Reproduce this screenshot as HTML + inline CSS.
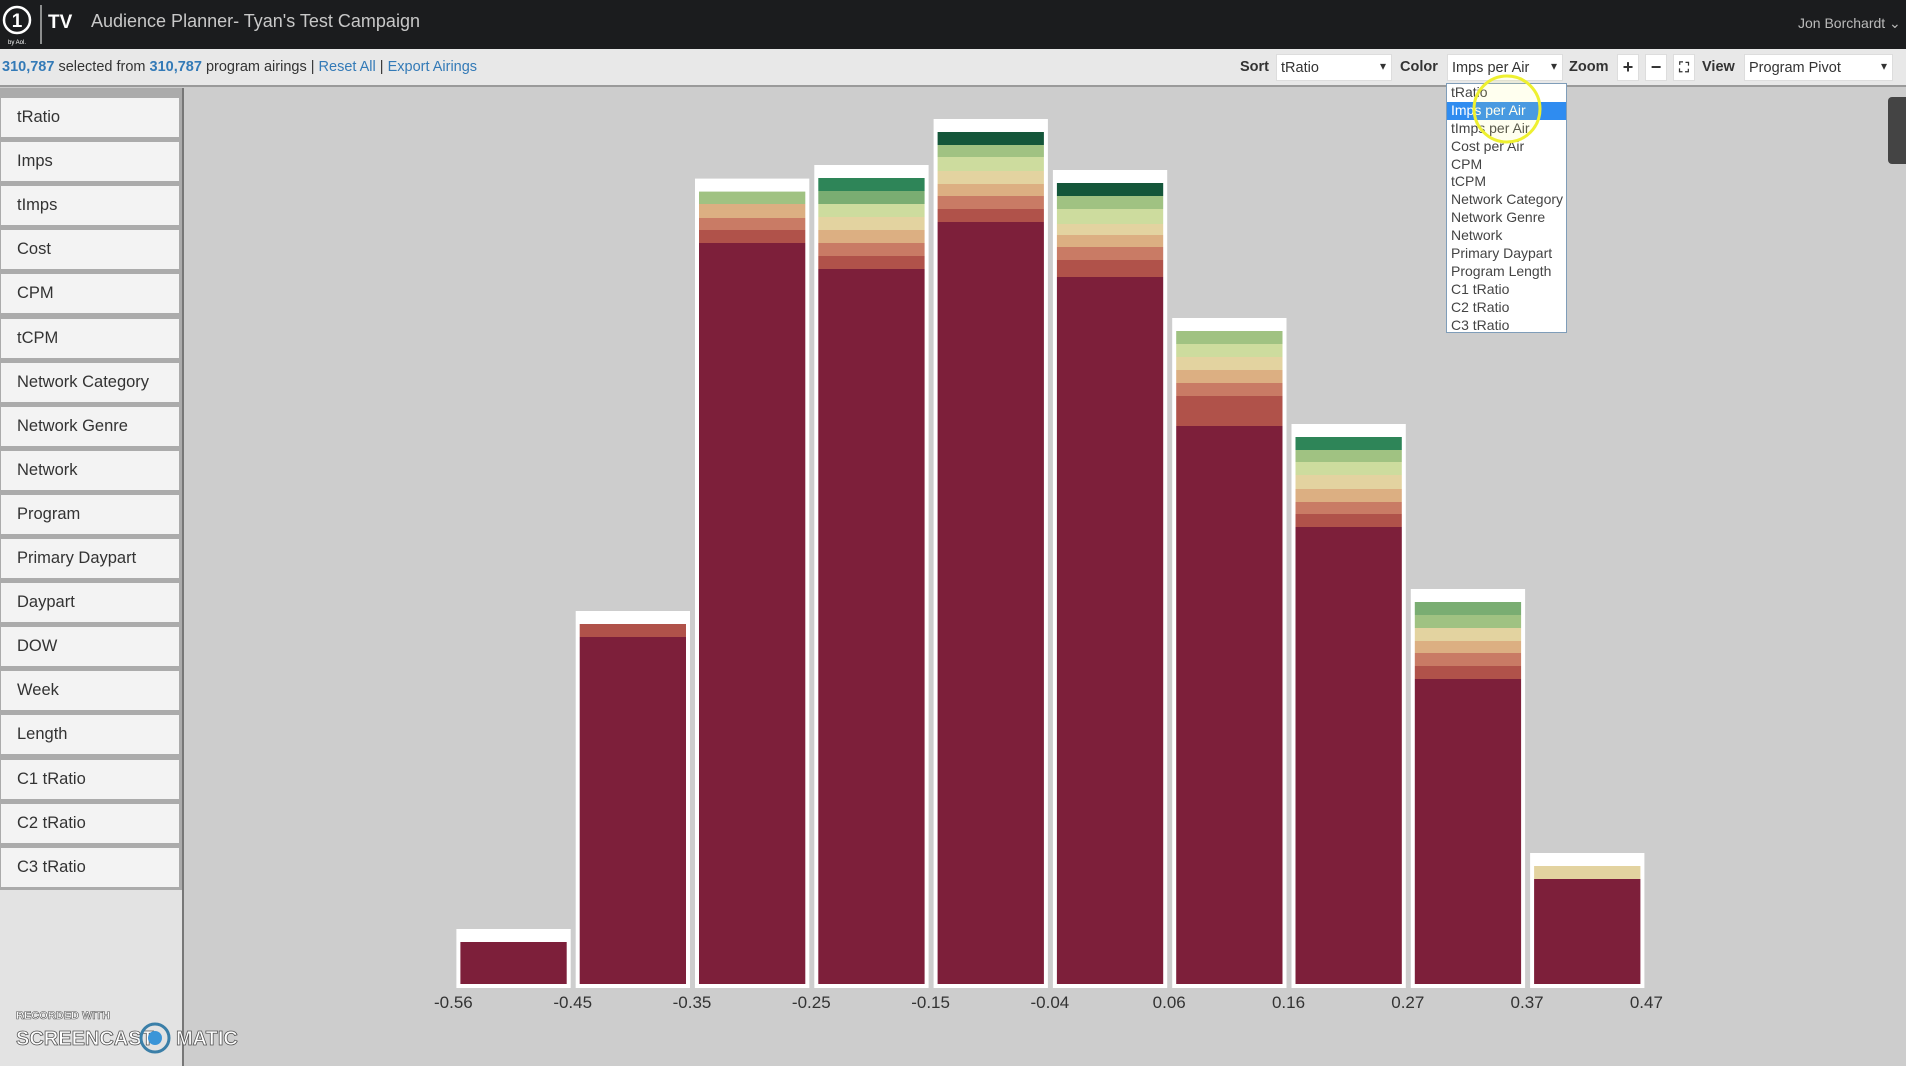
<!DOCTYPE html>
<html><head><meta charset="utf-8"><style>
*{box-sizing:border-box;margin:0;padding:0}
body{width:1906px;height:1066px;overflow:hidden;background:#cdcdcd;font-family:"Liberation Sans",sans-serif;position:relative}
#topbar{position:absolute;left:0;top:0;width:1906px;height:49px;background:#1b1c1e}
#toolbar{position:absolute;left:0;top:49px;width:1906px;height:38px;background:#e8e8e8;border-bottom:2px solid #9a9a9a;font-size:14.5px;color:#333}
.sel{position:absolute;top:5px;height:27px;background:#fff;border:1px solid #ddd;font-size:14.5px;padding:5px 4px;color:#333}
.sel:after{content:"▾";position:absolute;right:5px;top:4px;font-size:12px}
.lbl{position:absolute;top:10px;font-weight:bold;font-size:14.5px;color:#333}
.zb{position:absolute;top:5px;width:22px;height:27px;background:#fff;border:1px solid #ddd;text-align:center;font-weight:bold;font-size:18px;line-height:25px}
#sidebar{position:absolute;left:0;top:88px;width:184px;height:978px;background:#e3e3e3;border-right:2px solid #777}
#sbtns{position:absolute;left:0;top:0;width:182px;height:802px;background:#ababab}
.sb{position:absolute;left:1px;width:178px;height:39px;background:#f3f3f3;font-size:16.5px;color:#333;padding:10px 16px}
#dd{position:absolute;left:1446px;top:83px;width:121px;height:250px;background:#fff;border:1px solid #7f9db9;font-size:14px;color:#444;overflow:hidden}
#dd div{height:17.9px;line-height:17.9px;padding-left:4px;white-space:nowrap}
</style></head><body>
<div id="topbar">
 <svg width="60" height="49" style="position:absolute;left:0;top:0">
  <circle cx="17" cy="20" r="13" fill="none" stroke="#fff" stroke-width="2.5"/>
  <text x="17" y="27" fill="#fff" font-size="19" font-weight="bold" text-anchor="middle" font-family="Liberation Sans">1</text>
  <text x="17" y="44" fill="#fff" font-size="6" text-anchor="middle" font-family="Liberation Sans">by Aol.</text>
  <line x1="41" y1="5" x2="41" y2="44" stroke="#fff" stroke-width="1"/>
 </svg>
 <div style="position:absolute;left:48px;top:12px;color:#fff;font-size:19px;font-weight:bold">TV</div>
 <div style="position:absolute;left:91px;top:11px;color:#c8c8c8;font-size:18px">Audience Planner- Tyan's Test Campaign</div>
 <div style="position:absolute;left:1798px;top:15px;color:#bbb;font-size:14px">Jon Borchardt ⌄</div>
</div>
<div id="toolbar">
 <div style="position:absolute;left:2px;top:10px"><b style="color:#337ab7">310,787</b> selected from <b style="color:#337ab7">310,787</b> program airings | <span style="color:#337ab7">Reset All</span> | <span style="color:#337ab7">Export Airings</span></div>
 <div class="lbl" style="left:1240px">Sort</div>
 <div class="sel" style="left:1276px;width:116px">tRatio</div>
 <div class="lbl" style="left:1400px">Color</div>
 <div class="sel" style="left:1447px;width:116px">Imps per Air</div>
 <div class="lbl" style="left:1569px">Zoom</div>
 <div class="zb" style="left:1617px">+</div>
 <div class="zb" style="left:1645px">−</div>
 <div class="zb" style="left:1673px;font-size:14px">⛶</div>
 <div class="lbl" style="left:1702px">View</div>
 <div class="sel" style="left:1744px;width:149px">Program Pivot</div>
</div>
<div id="sidebar"><div id="sbtns"></div></div>
<div style="position:absolute;left:1888px;top:97px;width:18px;height:67px;background:#444;border-radius:4px 0 0 4px"></div>
<svg id="chart" width="1906" height="1066" style="position:absolute;left:0;top:0"></svg>
<div id="dd"></div>
<svg width="1906" height="1066" style="position:absolute;left:0;top:0;pointer-events:none">
 <circle cx="1507" cy="109" r="33" fill="rgba(255,255,120,0.12)" stroke="#eef030" stroke-width="3"/>
 <text x="16" y="1019" font-size="11" font-weight="bold" fill="#fff" stroke="#555" stroke-width="0.6" font-family="Liberation Sans">RECORDED WITH</text>
 <text x="16" y="1045" font-size="20" font-weight="bold" fill="#fff" stroke="#555" stroke-width="0.8" font-family="Liberation Sans">SCREENCAST</text>
 <circle cx="155" cy="1038" r="14" fill="none" stroke="#3b7fa8" stroke-width="3"/>
 <circle cx="155" cy="1038" r="7" fill="#3b95d8"/>
 <text x="176" y="1045" font-size="20" font-weight="bold" fill="#fff" stroke="#555" stroke-width="0.8" font-family="Liberation Sans">MATIC</text>
</svg>
<script>
// Chart data: airings per tRatio bin, stacked by Imps-per-Air color bucket
const binLabels = ["-0.56","-0.45","-0.35","-0.25","-0.15","-0.04","0.06","0.16","0.27","0.37","0.47"];
const colorBuckets = ["b0","b1","b2","b3","b4","b5","b6","b7","b8","b9"];
const bucketColors = ["#7d1f3a","#b0524a","#c97b65","#dcaf82","#e3d3a0","#cddc9e","#a0c282","#7aad72","#2e8558","#14563a"];
const s0 = [2100,17350,37050,35750,38100,35350,27900,22850,15250,5250];
const s1 = [0,650,650,650,650,850,1500,650,650,0];
const s2 = [0,0,600,650,650,650,650,600,650,0];
const s3 = [0,0,700,650,600,600,650,650,600,0];
const s4 = [0,0,0,650,650,550,650,700,650,650];
const s5 = [0,0,0,650,700,750,650,650,0,0];
const s6 = [0,0,620,0,600,650,650,600,650,0];
const s7 = [0,0,0,650,0,0,0,0,650,0];
const s8 = [0,0,0,650,0,0,0,650,0,0];
const s9 = [0,0,0,0,650,650,0,0,0,0];
const series = [s0,s1,s2,s3,s4,s5,s6,s7,s8,s9];

const NS="http://www.w3.org/2000/svg";
const svg=document.getElementById('chart');
const x0=453.4, pitch=119.3, baseY=984, k=0.02;
const xScale=i=>x0+i*pitch;
const yScale=v=>baseY-v*k;
function mk(tag,attrs){const e=document.createElementNS(NS,tag);for(const a in attrs)e.setAttribute(a,attrs[a]);svg.appendChild(e);return e;}
for(let i=0;i<binLabels.length-1;i++){
  let total=0;series.forEach(s=>total+=s[i]);
  const xl=xScale(i);
  const frame=mk('rect',{x:xl+3,y:yScale(total)-13,width:pitch-5,height:baseY-yScale(total)+17,fill:'#fff'});
  
  
  let cum=0;
  series.forEach((s,j)=>{
    if(!s[i])return;
    const yt=yScale(cum+s[i]), yb=yScale(cum);
    const r=mk('rect',{x:xl+7,y:yt,width:pitch-13,height:yb-yt,fill:bucketColors[j]});
    
    
    cum+=s[i];
  });
}
binLabels.forEach((l,i)=>{
  const t=mk('text',{x:xScale(i),y:1008,'font-size':17,'text-anchor':'middle',fill:'#333','font-family':'Liberation Sans'});
  t.textContent=l;
  
  
});

const sideItems=["tRatio","Imps","tImps","Cost","CPM","tCPM","Network Category","Network Genre","Network","Program","Primary Daypart","Daypart","DOW","Week","Length","C1 tRatio","C2 tRatio","C3 tRatio"];
const sb=document.getElementById('sbtns');
sideItems.forEach((t,i)=>{
  const d=document.createElement('div');d.className='sb';d.style.top=(10+i*44.1)+'px';d.textContent=t;
  
  
  sb.appendChild(d);
});
const ddItems=["tRatio","Imps per Air","tImps per Air","Cost per Air","CPM","tCPM","Network Category","Network Genre","Network","Primary Daypart","Program Length","C1 tRatio","C2 tRatio","C3 tRatio"];
const dd=document.getElementById('dd');
ddItems.forEach((t,i)=>{
  const d=document.createElement('div');d.textContent=t;
  if(i===1){d.style.background='#2f8cf0';d.style.color='#fff';}
  
  
  dd.appendChild(d);
});
</script>
</body></html>
